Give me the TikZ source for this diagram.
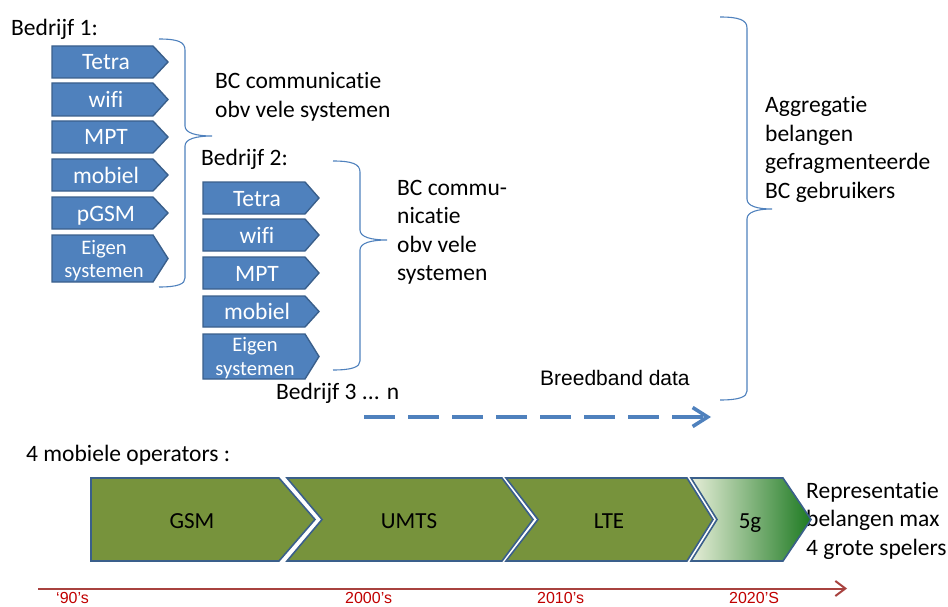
\documentclass[tikz,border=0pt]{standalone}
\usepackage{fontspec}
\setmainfont{Carlito}[Ligatures={NoCommon}]
\newfontfamily\arialf{Liberation Sans}
\usetikzlibrary{arrows.meta}
\definecolor{boxblue}{HTML}{4F81BD}
\definecolor{boxline}{HTML}{3A5F8B}
\definecolor{olivefill}{HTML}{77933C}
\definecolor{tlred}{HTML}{A8423F}
\definecolor{lblred}{HTML}{C00000}
\definecolor{g5light}{HTML}{E6EED8}
\definecolor{g5mid}{HTML}{9FB86C}
\definecolor{g5dark}{HTML}{1E7A22}
\newcommand\multiL[2]{\vtop{\baselineskip=#1\lineskiplimit=-100pt\lineskip=0pt\halign{##\hfil\cr#2\crcr}}}
\newcommand\multiC[2]{\vtop{\baselineskip=#1\lineskiplimit=-100pt\lineskip=0pt\halign{\hfil##\hfil\cr#2\crcr}}}
\tikzset{
  txt/.style={font=\fontsize{23.5}{28.5}\selectfont, inner sep=0pt, anchor=base west, text=black},
  boxtxt/.style={font=\fontsize{23.5}{28.5}\selectfont, inner sep=0pt, anchor=base, text=white},
  smallboxtxt/.style={font=\fontsize{20.6}{23.5}\selectfont, inner sep=0pt, anchor=base, text=white},
  sysshape/.style={fill=boxblue, draw=boxline, line width=1.4pt, line join=miter},
  chev/.style={fill=olivefill, draw=boxline, line width=1.6pt, line join=miter},
  chevtxt/.style={font=\fontsize{23}{28}\selectfont, inner sep=0pt, anchor=base, text=black},
  bracestyle/.style={draw=boxblue, line width=1.1pt},
  yearlbl/.style={font=\arialf\fontsize{16}{19}\selectfont, inner sep=0pt, anchor=base west, text=lblred},
}
\newcommand\sysbox[5]{% x left, y top, y bottom, body end, tip
  \filldraw[sysshape] (#1,#2) -- (#4,#2) -- (#5,{(#2+#3)/2}) -- (#4,#3) -- (#1,#3) -- cycle;}
\begin{document}
\begin{tikzpicture}[x=1pt,y=-1pt]
\useasboundingbox (0,0) rectangle (948,607);
\clip (0,0) rectangle (948,607);

% ---------- Bedrijf 1 ----------
\node[txt] (bed1) at (11,36) {Bedrijf 1:};
\sysbox{52}{46}{78}{153}{168}
\sysbox{52}{83}{116}{153}{168}
\sysbox{52}{121}{153}{153}{168}
\sysbox{52}{159}{191}{153}{168}
\sysbox{52}{197}{229}{153}{168}
\sysbox{52}{235}{282}{153}{168}
\node[boxtxt] (b1a) at (106,70) {Tetra};
\node[boxtxt] (b1b) at (106,107.5) {wifi};
\node[boxtxt] (b1c) at (106,145) {MPT};
\node[boxtxt] (b1d) at (106,183) {mobiel};
\node[boxtxt] (b1e) at (106,221) {pGSM};
\node[smallboxtxt] (b1f) at (104,254) {\multiC{23.5pt}{Eigen\cr systemen}};

\coordinate (br1top) at (159,39);
\coordinate (br1tip) at (212,136);
\coordinate (br1bot) at (159,287);
\draw[bracestyle] (br1top) .. controls (178,39) and (185,42) .. (185,50) -- (185,126)
  .. controls (185,133) and (196,136) .. (br1tip)
  .. controls (196,136) and (185,139) .. (185,146) -- (185,278)
  .. controls (185,284) and (178,287) .. (br1bot);
\node[txt] (bc1) at (215,89) {\multiL{28.5pt}{BC communicatie\cr obv vele systemen}};

% ---------- Bedrijf 2 ----------
\node[txt] (bed2) at (201,165) {Bedrijf 2:};
\sysbox{203}{182}{214}{305}{319}
\sysbox{203}{219}{251}{305}{319}
\sysbox{203}{257}{289}{305}{319}
\sysbox{203}{296}{327}{305}{319}
\sysbox{203}{334}{379}{305}{319}
\node[boxtxt] (b2a) at (257,206) {Tetra};
\node[boxtxt] (b2b) at (257,243) {wifi};
\node[boxtxt] (b2c) at (257,281) {MPT};
\node[boxtxt] (b2d) at (257,319.5) {mobiel};
\node[smallboxtxt] (b2e) at (255,351.5) {\multiC{23.5pt}{Eigen\cr systemen}};

\coordinate (br2top) at (333,161);
\coordinate (br2tip) at (387,240);
\coordinate (br2bot) at (333,370);
\draw[bracestyle] (br2top) .. controls (352,161) and (360,164) .. (360,172) -- (360,230)
  .. controls (360,237) and (371,240) .. (br2tip)
  .. controls (371,240) and (360,243) .. (360,250) -- (360,361)
  .. controls (360,367) and (352,370) .. (br2bot);
\node[txt] (bc2) at (397,195) {\multiL{28.5pt}{BC commu-\cr nicatie\cr obv vele\cr systemen}};

% ---------- Bedrijf 3 ----------
\node[txt] (bed3) at (276,399) {Bedrijf 3 ... n};
\node[font=\arialf\fontsize{21}{25}\selectfont, inner sep=0pt, anchor=base west] (bbd) at (540,385) {Breedband data};
\coordinate (bbstart) at (364,417);
\coordinate (bbend) at (711,417);
\draw[boxblue, line width=4pt, dash pattern=on 31pt off 13pt,
  -{Straight Barb[length=15pt,width=19pt,line width=3.6pt]}] (bbstart) -- (bbend);

% ---------- big brace ----------
\coordinate (br3top) at (720,17);
\coordinate (br3tip) at (772,209);
\coordinate (br3bot) at (720,400);
\draw[bracestyle] (br3top) .. controls (739,17) and (747,20) .. (747,28) -- (747,199)
  .. controls (747,206) and (757,209) .. (br3tip)
  .. controls (757,209) and (747,212) .. (747,219) -- (747,391)
  .. controls (747,397) and (739,400) .. (br3bot);
\node[txt] (aggr) at (765,113) {\multiL{28.5pt}{Aggregatie\cr belangen\cr gefragmenteerde\cr BC gebruikers}};

% ---------- mobiele operators ----------
\node[txt] (mobop) at (26,461) {4 mobiele operators :};
\node[txt] (repr) at (806,498) {\multiL{28.5pt}{Representatie\cr belangen max\cr 4 grote spelers}};

\filldraw[chev] (91,478) -- (279,478) -- (315,519.5) -- (279,561) -- (91,561) -- cycle;
\filldraw[chev] (287,478) -- (502,478) -- (533,519.5) -- (502,561) -- (287,561) -- (322,519.5) -- cycle;
\filldraw[chev] (506,478) -- (687,478) -- (713,519.5) -- (687,561) -- (506,561) -- (538,519.5) -- cycle;
\shadedraw[draw=boxline, line width=1.6pt, line join=miter, left color=g5light, middle color=g5mid, right color=g5dark]
  (691,478) -- (783,478) -- (811,519.5) -- (783,561) -- (691,561) -- (717,519.5) -- cycle;
\node[chevtxt] (gsm) at (192,528) {GSM};
\node[chevtxt] (umts) at (409,528) {UMTS};
\node[chevtxt] (lte) at (609,528) {LTE};
\node[chevtxt] (fiveg) at (750,528) {5g};

% ---------- timeline ----------
\coordinate (tlstart) at (38,588.5);
\coordinate (tlend) at (847,588.5);
\draw[tlred, line width=2pt, -{Straight Barb[length=10pt,width=15pt,line width=2pt]}] (tlstart) -- (tlend);
\node[yearlbl] (y90) at (56,603.5) {‘90’s};
\node[yearlbl] (y00) at (345,603.5) {2000’s};
\node[yearlbl] (y10) at (537,603.5) {2010’s};
\node[yearlbl] (y20) at (729,603.5) {2020’S};
\end{tikzpicture}
\end{document}
